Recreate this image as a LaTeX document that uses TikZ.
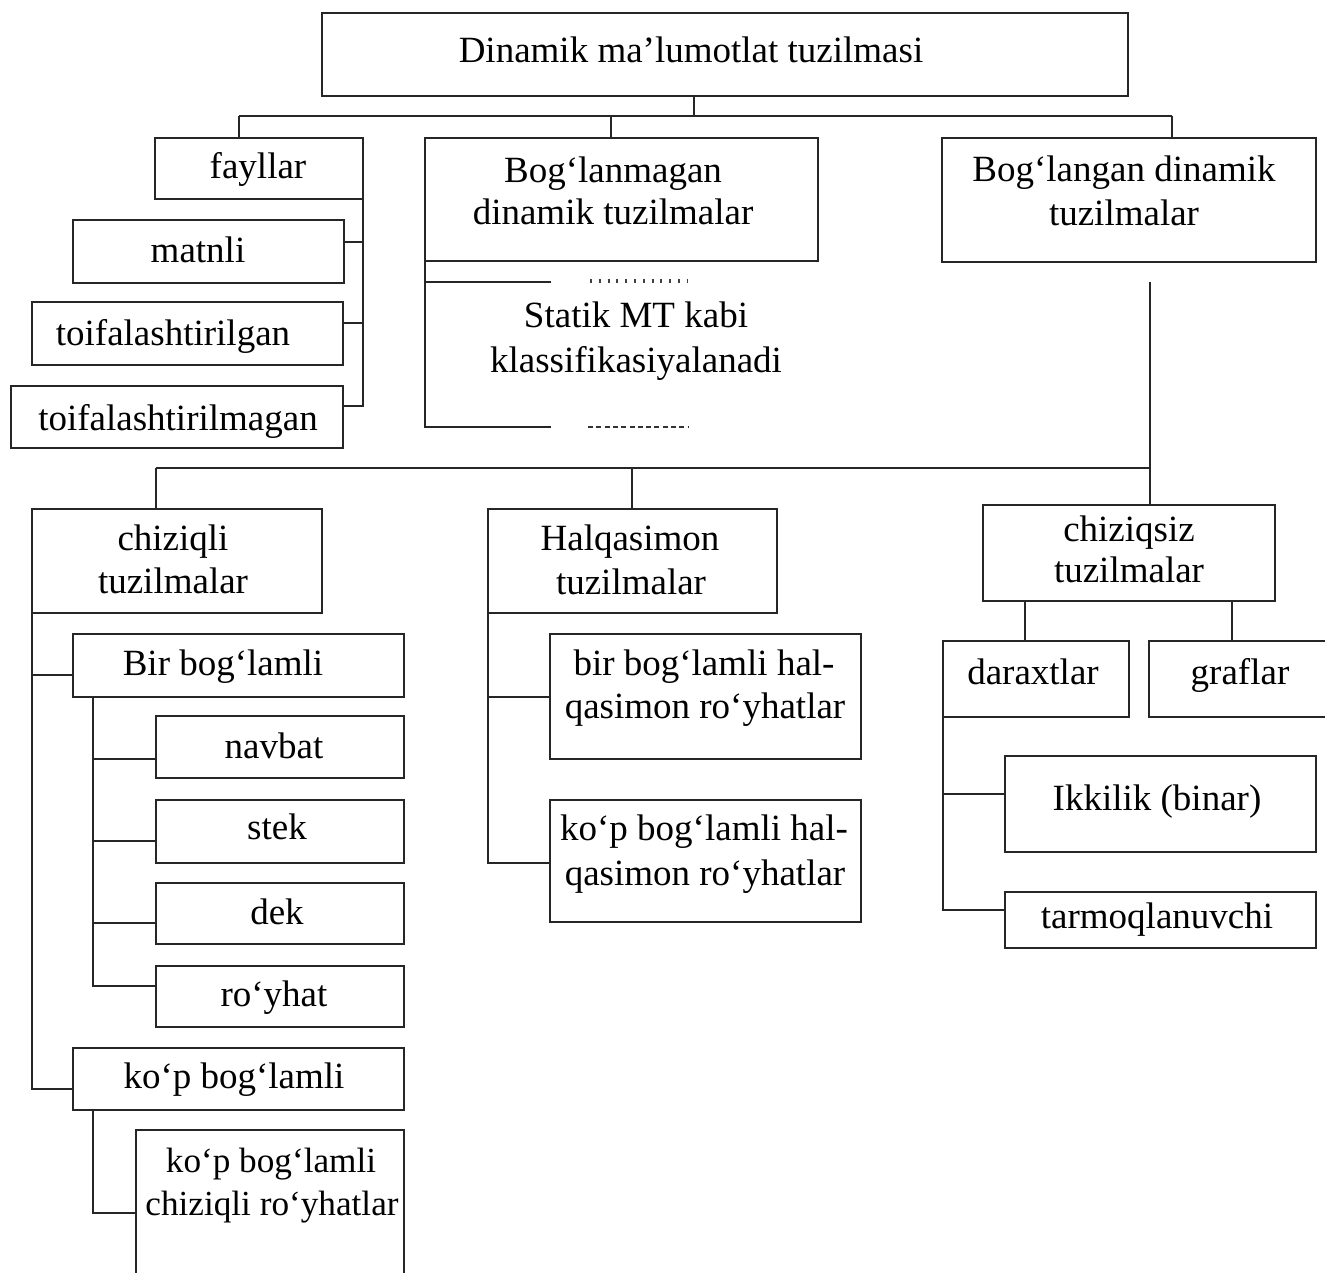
\documentclass[tikz,border=0pt]{standalone}
\usepackage{fontspec}
\setmainfont{Liberation Serif}
\tikzset{
  box/.style={draw=black!85, line width=1.1pt, inner sep=0pt, outer sep=0pt, rectangle},
  txt/.style={font=\fontsize{18.5pt}{21pt}\selectfont, inner sep=0pt, anchor=base},
  txts/.style={font=\fontsize{17.6pt}{21pt}\selectfont, inner sep=0pt, anchor=base},
  conn/.style={draw=black!85, line width=1.1pt},
  dotrow/.style={draw=black!75, line width=2pt, dash pattern=on 1pt off 3.4pt},
  dashrow/.style={draw=black!80, line width=1.2pt, dash pattern=on 2.5pt off 1.65pt}
}
\newcommand{\bxnode}[5]{\node[box, minimum width={(#4-#2)*0.5pt}, minimum height={(#5-#3)*0.5pt}] (#1) at ({(#2+#4)/2},{(#3+#5)/2}) {};}
\newcommand{\tx}[4]{\node[txt] (#1) at (#2,#3) {#4};}
\begin{document}
\begin{tikzpicture}[x=0.5pt,y=-0.5pt]
\useasboundingbox (0,0) rectangle (1325,1272);
\clip (0,0) rectangle (1325,1272);
\fill[white] (0,0) rectangle (1325,1272);

% boxes
\bxnode{top}{322}{13}{1128}{96}
\bxnode{fay}{155}{138}{363}{199}
\bxnode{mat}{73}{220}{344}{283}
\bxnode{toia}{32}{302}{343}{365}
\bxnode{toib}{11}{386}{343}{448}
\bxnode{blm}{425}{138}{818}{261}
\bxnode{bld}{942}{138}{1316}{262}
\bxnode{chz}{32}{509}{322}{613}
\bxnode{bir}{73}{634}{404}{697}
\bxnode{nav}{156}{716}{404}{778}
\bxnode{stk}{156}{800}{404}{863}
\bxnode{dek}{156}{883}{404}{944}
\bxnode{roy}{156}{966}{404}{1027}
\bxnode{kop}{73}{1048}{404}{1110}
\bxnode{kcr}{136}{1130}{404}{1300}
\bxnode{hlq}{488}{509}{777}{613}
\bxnode{hba}{550}{634}{861}{759}
\bxnode{hbb}{550}{800}{861}{922}
\bxnode{czs}{983}{505}{1275}{601}
\bxnode{dar}{943}{641}{1129}{717}
\bxnode{gra}{1149}{641}{1345}{717}
\bxnode{ikk}{1005}{756}{1316}{852}
\bxnode{tar}{1005}{892}{1316}{948}

% texts
\tx{t1}{691}{63}{Dinamik ma’lumotlat tuzilmasi}
\tx{t2}{258}{179}{fayllar}
\tx{t3}{198}{263}{matnli}
\tx{t4}{173}{346}{toifalashtirilgan}
\tx{t5}{178}{430}{toifalashtirilmagan}
\tx{t6}{613}{183}{Bog‘lanmagan}
\tx{t7}{613}{225}{dinamik tuzilmalar}
\tx{t8}{636}{328}{Statik MT kabi}
\tx{t9}{636}{372}{klassifikasiyalanadi}
\tx{t10}{1124}{182}{Bog‘langan dinamik}
\tx{t11}{1124}{226}{tuzilmalar}
\tx{t12}{173}{550}{chiziqli}
\tx{t13}{173}{593}{tuzilmalar}
\tx{t14}{223}{675}{Bir bog‘lamli}
\tx{t15}{274}{758}{navbat}
\tx{t16}{277}{839}{stek}
\tx{t17}{277}{924}{dek}
\tx{t18}{274}{1006}{ro‘yhat}
\tx{t19}{234}{1088}{ko‘p bog‘lamli}
\node[txts] (t20) at (271,1172) {ko‘p bog‘lamli};
\node[txts] (t21) at (272,1215) {chiziqli ro‘yhatlar};
\tx{t22}{630}{550}{Halqasimon}
\tx{t23}{631}{594}{tuzilmalar}
\tx{t24}{704}{675}{bir bog‘lamli hal-}
\tx{t25}{705}{718}{qasimon ro‘yhatlar}
\tx{t26}{704}{840}{ko‘p bog‘lamli hal-}
\tx{t27}{705}{885}{qasimon ro‘yhatlar}
\tx{t28}{1129}{541}{chiziqsiz}
\tx{t29}{1129}{582}{tuzilmalar}
\tx{t30}{1033}{684}{daraxtlar}
\tx{t31}{1240}{684}{graflar}
\tx{t32}{1157}{810}{Ikkilik (binar)}
\tx{t33}{1157}{928}{tarmoqlanuvchi}

% level 1 bus
\coordinate (b1L) at (239,116);
\coordinate (b1M) at (694,116);
\coordinate (b1C) at (611,116);
\coordinate (b1R) at (1172,116);
\draw[conn] (top.south -| b1M) -- (b1M);
\draw[conn] (b1L) -- (b1R);
\draw[conn] (b1L) -- (fay.north -| b1L);
\draw[conn] (b1C) -- (blm.north -| b1C);
\draw[conn] (b1R) -- (bld.north -| b1R);

% fayllar group
\coordinate (fa) at (363,242);
\coordinate (fb) at (363,323);
\coordinate (fc) at (363,406);
\draw[conn] (fay.south east) -- (fc) -- (fc -| toib.east);
\draw[conn] (fa) -- (fa -| mat.east);
\draw[conn] (fb) -- (fb -| toia.east);

% Bog'lanmagan group
\coordinate (ua) at (425,282);
\coordinate (ub) at (425,427);
\coordinate (uae) at (551,282);
\coordinate (ube) at (551,427);
\draw[conn] (blm.south west) -- (ub) -- (ube);
\draw[conn] (ua) -- (uae);
\coordinate (da1) at (590,281);
\coordinate (da2) at (688,281);
\coordinate (db1) at (588,427);
\coordinate (db2) at (688,427);
\draw[dotrow] (da1) -- (da2);
\draw[dashrow] (db1) -- (db2);

% Bog'langan group
\coordinate (v1) at (1150,282);
\coordinate (b2R) at (1150,468);
\coordinate (b2L) at (156,468);
\coordinate (b2M) at (632,468);
\draw[conn] (v1) -- (czs.north -| v1);
\draw[conn] (b2L) -- (b2R);
\draw[conn] (b2L) -- (chz.north -| b2L);
\draw[conn] (b2M) -- (hlq.north -| b2M);

% chiziqli group
\coordinate (ca) at (32,675);
\coordinate (cb) at (32,1089);
\draw[conn] (chz.south west) -- (cb) -- (cb -| kop.west);
\draw[conn] (ca) -- (ca -| bir.west);
\coordinate (bv) at (93,697);
\coordinate (bn) at (93,759);
\coordinate (bs) at (93,841);
\coordinate (bd) at (93,923);
\coordinate (br) at (93,986);
\draw[conn] (bv) -- (br) -- (br -| roy.west);
\draw[conn] (bn) -- (bn -| nav.west);
\draw[conn] (bs) -- (bs -| stk.west);
\draw[conn] (bd) -- (bd -| dek.west);
\coordinate (kv) at (93,1110);
\coordinate (kk) at (93,1213);
\draw[conn] (kv) -- (kk) -- (kk -| kcr.west);

% Halqasimon group
\coordinate (ha) at (488,697);
\coordinate (hb) at (488,863);
\draw[conn] (hlq.south west) -- (hb) -- (hb -| hbb.west);
\draw[conn] (ha) -- (ha -| hba.west);

% chiziqsiz group
\coordinate (sa) at (1025,601);
\coordinate (sb) at (1232,601);
\draw[conn] (sa) -- (dar.north -| sa);
\draw[conn] (sb) -- (gra.north -| sb);
\coordinate (ta) at (943,794);
\coordinate (tb) at (943,910);
\draw[conn] (dar.south west) -- (tb) -- (tb -| tar.west);
\draw[conn] (ta) -- (ta -| ikk.west);
\end{tikzpicture}
\end{document}
